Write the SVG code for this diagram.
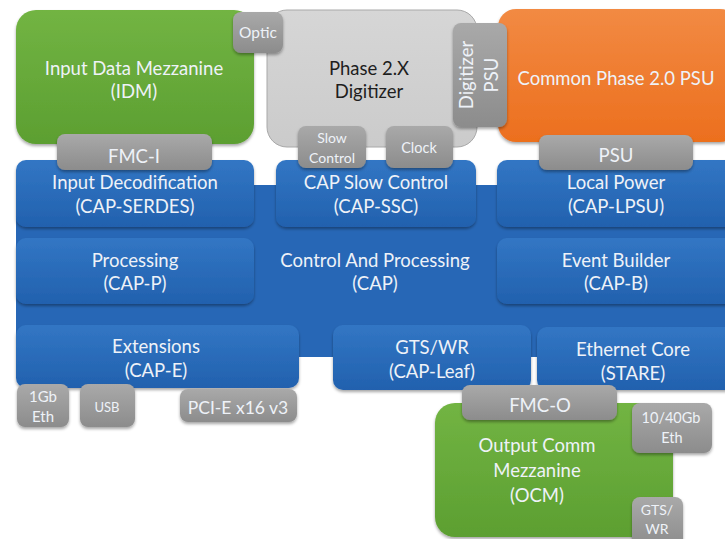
<svg xmlns="http://www.w3.org/2000/svg" width="725" height="539" viewBox="0 0 725 539">
<defs>
<linearGradient id="gGreen" x1="0" y1="0" x2="0" y2="1"><stop offset="0" stop-color="#72b443"/><stop offset="1" stop-color="#5c9f31"/></linearGradient>
<linearGradient id="gOrange" x1="0" y1="0" x2="0" y2="1"><stop offset="0" stop-color="#f28a43"/><stop offset="1" stop-color="#ec6f1e"/></linearGradient>
<linearGradient id="gBlue" x1="0" y1="0" x2="0" y2="1"><stop offset="0" stop-color="#3276c4"/><stop offset="1" stop-color="#2261ae"/></linearGradient>
<linearGradient id="gGray" x1="0" y1="0" x2="0" y2="1"><stop offset="0" stop-color="#a9a9a9"/><stop offset="1" stop-color="#8c8c8c"/></linearGradient>
<linearGradient id="gLight" x1="0" y1="0" x2="0" y2="1"><stop offset="0" stop-color="#d6d6d6"/><stop offset="1" stop-color="#cbcbcb"/></linearGradient>
<filter id="sh" x="-10%" y="-10%" width="130%" height="140%"><feDropShadow dx="0" dy="2" stdDeviation="1.5" flood-color="#000" flood-opacity="0.35"/></filter>
</defs>
<style>
text{font-family:Lato,"Open Sans","Liberation Sans",sans-serif;text-anchor:middle;fill:#eef2f8}
.t16{font-size:18.5px}
.dark{fill:#1e1e1e;font-size:18.5px}
.blue{fill:url(#gBlue);filter:url(#sh)}
.gray{fill:url(#gGray);filter:url(#sh)}
</style>
<g id="idm"><rect x="16" y="10" width="238" height="134" rx="20" fill="url(#gGreen)" filter="url(#sh)"/>
<text class="t16" x="134" y="75">Input Data Mezzanine</text><text class="t16" x="134" y="98">(IDM)</text></g>
<g id="digitizer"><rect x="267" y="10" width="210" height="137" rx="20" fill="url(#gLight)" stroke="#a8a8a8" stroke-width="1"/>
<text class="dark" x="369" y="75">Phase 2.X</text><text class="dark" x="369" y="98">Digitizer</text></g>
<g id="commonpsu"><rect x="498" y="9" width="240" height="133" rx="18" fill="url(#gOrange)" filter="url(#sh)"/>
<text class="t16" x="616" y="85">Common Phase 2.0 PSU</text></g>
<g id="optic"><rect x="233" y="12" width="50" height="41" rx="8" class="gray"/><text x="258" y="38" font-size="15.5">Optic</text></g>
<g id="digitizerpsu"><rect x="453" y="23" width="54" height="104" rx="8" class="gray"/>
<text class="t16" transform="translate(473,75) rotate(-90)">Digitizer</text><text class="t16" transform="translate(498,75) rotate(-90)">PSU</text></g>
<g id="cap"><rect x="16" y="185" width="720" height="172" rx="4" fill="#2767b6"/>
<text class="t16" x="375" y="267">Control And Processing</text><text class="t16" x="375" y="290">(CAP)</text></g>
<g id="cap-serdes"><rect x="16" y="160" width="238" height="67" rx="10" class="blue"/>
<text class="t16" x="135" y="189">Input Decodification</text><text class="t16" x="135" y="213">(CAP-SERDES)</text></g>
<g id="cap-ssc"><rect x="276" y="160" width="200" height="67" rx="10" class="blue"/>
<text class="t16" x="376" y="189">CAP Slow Control</text><text class="t16" x="376" y="213">(CAP-SSC)</text></g>
<g id="cap-lpsu"><rect x="497" y="160" width="240" height="67" rx="10" class="blue"/>
<text class="t16" x="616" y="189">Local Power</text><text class="t16" x="616" y="213">(CAP-LPSU)</text></g>
<g id="cap-p"><rect x="16" y="238" width="238" height="66" rx="10" class="blue"/>
<text class="t16" x="135" y="267">Processing</text><text class="t16" x="135" y="290">(CAP-P)</text></g>
<g id="cap-b"><rect x="497" y="238" width="240" height="66" rx="10" class="blue"/>
<text class="t16" x="616" y="267">Event Builder</text><text class="t16" x="616" y="290">(CAP-B)</text></g>
<g id="cap-e"><rect x="16" y="325" width="283" height="63" rx="10" class="blue"/>
<text class="t16" x="156" y="353">Extensions</text><text class="t16" x="156" y="377">(CAP-E)</text></g>
<g id="cap-leaf"><rect x="333" y="325" width="198" height="65" rx="10" class="blue"/>
<text class="t16" x="432" y="354">GTS/WR</text><text class="t16" x="432" y="378">(CAP-Leaf)</text></g>
<g id="stare"><rect x="537" y="327" width="200" height="63" rx="10" class="blue"/>
<text class="t16" x="633" y="356">Ethernet Core</text><text class="t16" x="633" y="380">(STARE)</text></g>
<g id="fmc-i"><rect x="57" y="134" width="155" height="36" rx="8" class="gray"/><text class="t16" x="134" y="163">FMC-I</text></g>
<g id="slowcontrol"><rect x="298" y="126" width="68" height="42" rx="8" class="gray"/><text font-size="14" x="332" y="143">Slow</text><text font-size="14" x="332" y="163">Control</text></g>
<g id="clock"><rect x="386" y="126" width="67" height="42" rx="8" class="gray"/><text font-size="14.5" x="419" y="153">Clock</text></g>
<g id="psu"><rect x="539" y="135" width="154" height="35" rx="8" class="gray"/><text class="t16" x="616" y="162">PSU</text></g>
<g id="eth1gb"><rect x="17" y="384" width="52" height="43" rx="8" class="gray"/><text font-size="15" x="43" y="402">1Gb</text><text font-size="15" x="43" y="422">Eth</text></g>
<g id="usb"><rect x="80" y="384" width="55" height="43" rx="8" class="gray"/><text font-size="13" x="107" y="412">USB</text></g>
<g id="pcie"><rect x="180" y="389" width="117" height="33" rx="8" class="gray"/><text font-size="17.5" x="238" y="414">PCI-E x16 v3</text></g>
<g id="ocm"><rect x="435" y="403" width="238" height="134" rx="20" fill="url(#gGreen)" filter="url(#sh)"/>
<text class="t16" x="537" y="452">Output Comm</text><text class="t16" x="537" y="477">Mezzanine</text><text class="t16" x="537" y="502">(OCM)</text></g>
<g id="fmc-o"><rect x="462" y="385" width="155" height="35" rx="8" class="gray"/><text class="t16" x="540" y="412">FMC-O</text></g>
<g id="eth1040"><rect x="632" y="403" width="80" height="50" rx="8" class="gray"/><text font-size="14.5" x="671" y="423">10/40Gb</text><text font-size="14.5" x="672" y="443">Eth</text></g>
<g id="gtswr"><rect x="632" y="497" width="51" height="50" rx="8" class="gray"/><text font-size="14" x="657" y="515">GTS/</text><text font-size="14" x="657" y="534">WR</text></g>
<g id="connectors"></g>
</svg>
